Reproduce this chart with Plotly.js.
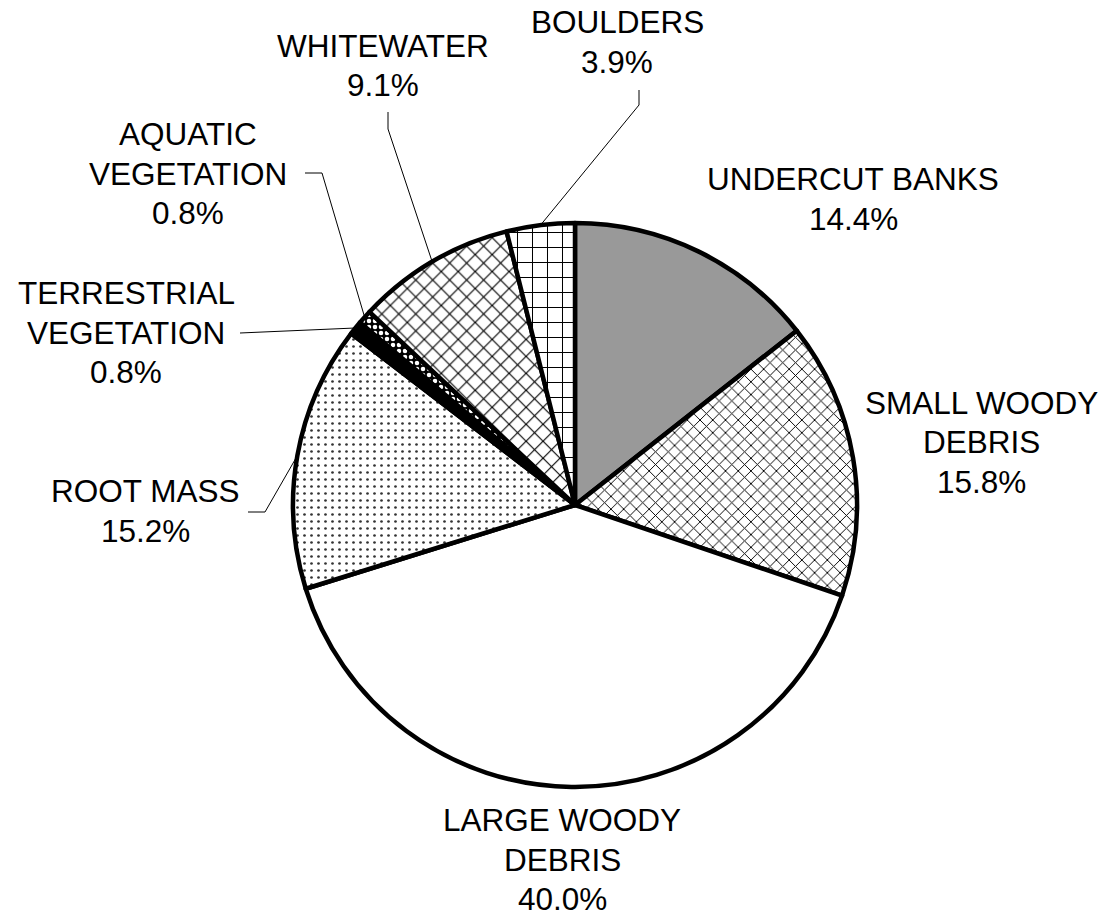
<!DOCTYPE html>
<html>
<head>
<meta charset="utf-8">
<script src="https://cdn.plot.ly/plotly-3.0.1.min.js"></script>
<style>html,body{margin:0;padding:0;background:#fff;}#chart{width:1109px;height:916px;}</style>
</head>
<body>
<div id="chart"></div>
<script>
// ---- data ----
var categories = ["UNDERCUT BANKS", "SMALL WOODY DEBRIS", "LARGE WOODY DEBRIS", "ROOT MASS",
                  "TERRESTRIAL VEGETATION", "AQUATIC VEGETATION", "WHITEWATER", "BOULDERS"];
var labelLines = [["UNDERCUT BANKS"], ["SMALL WOODY", "DEBRIS"], ["LARGE WOODY", "DEBRIS"], ["ROOT MASS"],
                  ["TERRESTRIAL", "VEGETATION"], ["AQUATIC", "VEGETATION"], ["WHITEWATER"], ["BOULDERS"]];
var percents = [14.4, 15.8, 40.0, 15.2, 0.8, 0.8, 9.1, 3.9];

// ---- styles ----
var W = 1109, H = 916;
var cx = 575, cy = 505, R = 282;
var bg = ["#999999", "#ffffff", "#ffffff", "#ffffff", "#000000", "#000000", "#ffffff", "#ffffff"];
var pShape = ["", "x", "", ".", "", ".", "x", "+"];
var pSize = [8, 9, 8, 7, 8, 6, 12, 15];
var pSolid = [0.2, 0.2, 0.2, 0.12, 0.2, 0.45, 0.18, 0.13];
var pFg = ["#000", "#000", "#000", "#333", "#000", "#fff", "#000", "#000"];
var fontSize = 31.5, lineGap = 39.5;

function px(x) { return x / W; }
function py(y) { return 1 - y / H; }

var trace = {
  type: "pie",
  values: percents,
  labels: categories,
  sort: false,
  direction: "clockwise",
  rotation: 0,
  textinfo: "none",
  hoverinfo: "label+percent",
  domain: { x: [px(cx - R), px(cx + R)], y: [py(cy + R), py(cy - R)] },
  marker: {
    colors: bg,
    line: { color: "#000000", width: 4.5 },
    pattern: { shape: pShape, size: pSize, solidity: pSolid, fgcolor: pFg, bgcolor: bg, fillmode: "replace" }
  },
  showlegend: false
};

// mid-angle edge point of each slice (from data)
var total = percents.reduce(function (a, b) { return a + b; }, 0);
var cum = 0, edge = [];
for (var i = 0; i < percents.length; i++) {
  var mid = (cum + percents[i] / 2) / total * 2 * Math.PI;
  edge.push([cx + R * Math.sin(mid), cy - R * Math.cos(mid)]);
  cum += percents[i];
}

// label placement: x centre, y centre of first line
var labelPos = [
  [853, 179], [981, 403], [562, 820], [145, 491],
  [126, 293], [188, 134], [383, 46], [617, 22]
];
var elbows = {
  3: [[248, 512], [265, 512]],
  4: [[240, 333]],
  5: [[305, 173], [322, 173]],
  6: [[388, 112], [388, 129]],
  7: [[639, 90], [639, 105]]
};

var annotations = [];
for (var j = 0; j < categories.length; j++) {
  var lines = labelLines[j].concat([percents[j].toFixed(1) + "%"]);
  lines.forEach(function (t, n) {
    annotations.push({
      xref: "paper", yref: "paper",
      x: px(labelPos[j][0]), y: py(labelPos[j][1] + n * lineGap),
      xanchor: "center", yanchor: "middle",
      text: t,
      showarrow: false,
      font: { family: "Liberation Sans, Arial, sans-serif", size: fontSize, color: "#000" }
    });
  });
}

var shapes = [];
Object.keys(elbows).forEach(function (k) {
  var pts = elbows[k].concat([edge[+k]]);
  var d = "";
  pts.forEach(function (p, n) {
    d += (n === 0 ? "M" : "L") + px(p[0]) + "," + py(p[1]);
  });
  shapes.push({
    type: "path", xref: "paper", yref: "paper", path: d,
    line: { color: "#000", width: 1 }
  });
});

var layout = {
  width: W, height: H,
  margin: { l: 0, r: 0, t: 0, b: 0 },
  paper_bgcolor: "#ffffff",
  plot_bgcolor: "#ffffff",
  annotations: annotations,
  shapes: shapes,
  font: { family: "Liberation Sans, Arial, sans-serif" }
};

Plotly.newPlot("chart", [trace], layout, { displayModeBar: false, staticPlot: true });
</script>
</body>
</html>
